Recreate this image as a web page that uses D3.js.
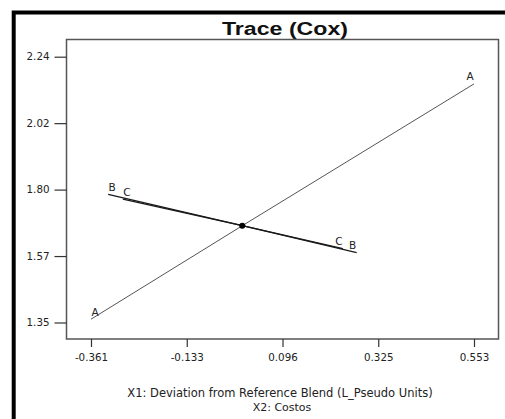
<!DOCTYPE html>
<html>
<head>
<meta charset="utf-8">
<script src="https://cdn.jsdelivr.net/npm/d3@7"></script>
<style>
  body { margin: 0; background: #fff; }
  svg { display: block; font-family: "DejaVu Sans", sans-serif; }
</style>
</head>
<body>
<svg id="chart" width="505" height="419"></svg>
<script>
// trace data
var traceNames = ["A", "B", "C"];
var traceA_x = [-0.361, 0.000, 0.553];
var traceA_y = [1.361, 1.674, 2.149];
var traceB_x = [-0.320, 0.000, 0.273];
var traceB_y = [1.779, 1.674, 1.584];
var traceC_x = [-0.285, 0.000, 0.240];
var traceC_y = [1.763, 1.674, 1.597];
var refPoint = [0.000, 1.674];

var xTickLabels = ["-0.361", "-0.133", "0.096", "0.325", "0.553"];
var yTickLabels = ["1.35", "1.57", "1.80", "2.02", "2.24"];

var svg = d3.select("#chart")

// plot box
var box = {left: 66.5, top: 39.5, right: 498.5, bottom: 339}

var x = d3.scaleLinear().domain([-0.361, 0.553]).range([91, 474])
var y = d3.scaleLinear().domain([1.35, 2.24]).range([322.5, 56.7])

function evenTicks(lo, hi, n) {
  return d3.range(n).map(function(i){ return lo + i * (hi - lo) / (n - 1) })
}

// outer frame (only top and left visible)
svg.append("path")
  .attr("d", "M13.7,419 V12.5 H505")
  .style("fill", "none")
  .style("stroke", "#000")
  .style("stroke-width", 4)

// title
svg.append("text")
  .attr("x", 285)
  .attr("y", 35)
  .attr("text-anchor", "middle")
  .attr("textLength", 126)
  .attr("lengthAdjust", "spacingAndGlyphs")
  .style("font-family", "Liberation Sans, Arial, sans-serif")
  .style("font-size", "17.5px")
  .style("font-weight", "bold")
  .style("fill", "#111")
  .text("Trace (Cox)")

svg.append("rect")
  .attr("x", box.left)
  .attr("y", box.top)
  .attr("width", box.right - box.left)
  .attr("height", box.bottom - box.top)
  .style("fill", "none")
  .style("stroke", "#555")
  .style("stroke-width", 1.5)

// axes
var xAxis = d3.axisBottom(x)
  .tickValues(evenTicks(-0.361, 0.553, 5))
  .tickFormat(function(d, i){ return xTickLabels[i] })
  .tickSize(8)
  .tickPadding(7)

var yAxis = d3.axisLeft(y)
  .tickValues(evenTicks(1.35, 2.24, 5))
  .tickFormat(function(d, i){ return yTickLabels[i] })
  .tickSize(12)
  .tickPadding(5)

var gx = svg.append("g")
  .attr("transform", "translate(0," + box.bottom + ")")
  .call(xAxis)
var gy = svg.append("g")
  .attr("transform", "translate(" + box.left + ",0)")
  .call(yAxis)

;[gx, gy].forEach(function(g){
  g.select(".domain").remove()
  g.selectAll(".tick line").style("stroke", "#333").style("stroke-width", 1.2)
  g.selectAll(".tick text")
    .style("font-family", "DejaVu Sans, sans-serif")
    .style("font-size", "10.3px")
    .style("fill", "#222")
})

// axis titles
svg.append("text")
  .attr("x", 280)
  .attr("y", 397)
  .attr("text-anchor", "middle")
  .style("font-size", "11.5px")
  .style("fill", "#222")
  .text("X1: Deviation from Reference Blend (L_Pseudo Units)")

svg.append("text")
  .attr("x", 282)
  .attr("y", 411)
  .attr("text-anchor", "middle")
  .style("font-size", "11px")
  .style("fill", "#222")
  .text("X2: Costos")

// traces
var traces = [
  {name: traceNames[0], xs: traceA_x, ys: traceA_y, color: "#555", width: 1},
  {name: traceNames[1], xs: traceB_x, ys: traceB_y, color: "#1a1a1a", width: 1.3},
  {name: traceNames[2], xs: traceC_x, ys: traceC_y, color: "#1a1a1a", width: 1.3}
]

var line = d3.line()
  .x(function(d){ return x(d[0]) })
  .y(function(d){ return y(d[1]) })

var tg = svg.append("g").attr("class", "traces")

traces.forEach(function(t){
  var pts = t.xs.map(function(v, i){ return [v, t.ys[i]] })
  tg.append("path")
    .attr("d", line(pts))
    .style("fill", "none")
    .style("stroke", t.color)
    .style("stroke-width", t.width)

  var first = pts[0], last = pts[pts.length - 1]
  tg.selectAll(null)
    .data([{p: first, dx: 4}, {p: last, dx: -4}])
    .enter().append("text")
    .attr("x", function(d){ return x(d.p[0]) + d.dx })
    .attr("y", function(d){ return y(d.p[1]) - 3.5 })
    .attr("text-anchor", "middle")
    .style("font-size", "10.5px")
    .style("fill", "#222")
    .text(t.name)
})

// reference blend point
tg.append("circle")
  .attr("cx", x(refPoint[0]))
  .attr("cy", y(refPoint[1]))
  .attr("r", 3)
  .style("fill", "#000")
</script>
</body>
</html>
